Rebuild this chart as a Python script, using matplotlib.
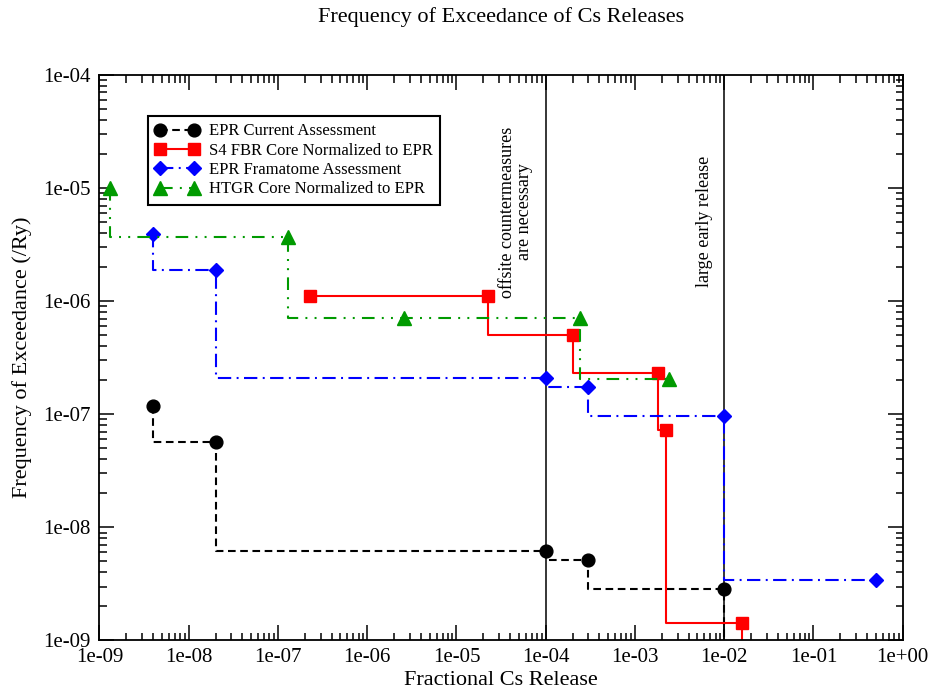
import matplotlib.pyplot as plt
import numpy as np

plt.rcParams['font.family'] = ['Liberation Serif', 'DejaVu Serif']
plt.rcParams['lines.scale_dashes'] = False

# data (fractional release, frequency /Ry)
epr_x = [4e-9, 2e-8, 1e-4, 3e-4, 1e-2, 1e-2]
epr_y = [1.18e-7, 5.7e-8, 6.2e-9, 5.2e-9, 2.85e-9, 1e-10]

s4_x = [2.3e-7, 2.25e-5, 2.0e-4, 1.8e-3, 2.25e-3, 1.58e-2, 1.58e-2]
s4_y = [1.12e-6, 1.10e-6, 5.0e-7, 2.3e-7, 7.2e-8, 1.42e-9, 1e-10]

fra_x = [4e-9, 2e-8, 1e-4, 3e-4, 1e-2, 0.5]
fra_y = [3.9e-6, 1.9e-6, 2.08e-7, 1.75e-7, 9.6e-8, 3.45e-9]

htgr_x = [1.3e-9, 1.3e-7, 2.6e-6, 2.4e-4, 2.4e-3]
htgr_y = [1e-5, 3.7e-6, 7.1e-7, 7.1e-7, 2.05e-7]

labels = ['EPR Current Assessment', 'S4 FBR Core Normalized to EPR',
          'EPR Framatome Assessment', 'HTGR Core Normalized to EPR']
green = '#009a00'

fig, ax = plt.subplots(figsize=(9.34, 6.91), dpi=100)
fig.subplots_adjust(left=0.1065, right=0.9665, bottom=0.0731, top=0.8915)

ax.axvline(1e-4, color='black', lw=1.1)
ax.axvline(1e-2, color='black', lw=1.1)

ax.plot(epr_x, epr_y, color='black', ls=(0, (5.5, 3.3)), lw=1.5, marker='o', ms=9.2,
        drawstyle='steps-pre', label=labels[0])
ax.plot(s4_x, s4_y, color='#ff0000', ls='-', lw=1.5, marker='s', ms=8.2,
        drawstyle='steps-pre', label=labels[1])
ax.plot(fra_x, fra_y, color='#0000ff', ls=(0, (9.6, 3.9, 1.4, 3.9)), lw=1.5, marker='D', ms=7.3,
        drawstyle='steps-pre', label=labels[2])
ax.plot(htgr_x, htgr_y, color=green, ls=(0, (9.1, 5.2, 1.4, 5.2, 1.4, 5.2)), lw=1.5, marker='^', ms=9.5,
        drawstyle='steps-pre', label=labels[3])

ax.set_xscale('log')
ax.set_yscale('log')
ax.set_xlim(1e-9, 1)
ax.set_ylim(1e-9, 1e-4)

xt = [10.0 ** e for e in range(-9, 1)]
ax.set_xticks(xt)
ax.set_xticklabels(['1e%+03d' % e for e in range(-9, 1)])
yt = [10.0 ** e for e in range(-9, -3)]
ax.set_yticks(yt)
ax.set_yticklabels(['1e%+03d' % e for e in range(-9, -3)])

ax.tick_params(which='both', direction='in', top=True, right=True, width=1.1)
ax.tick_params(which='major', length=10.8)
ax.tick_params(which='minor', length=5.4)
ax.tick_params(axis='x', which='major', labelsize=15, pad=5.5)
ax.tick_params(axis='y', which='major', labelsize=15, pad=6.5)
for s in ax.spines.values():
    s.set_linewidth(1.3)

ax.set_title('Frequency of Exceedance of Cs Releases', fontsize=16, y=1.1026, pad=0, va='center')
ax.set_xlabel('Fractional Cs Release', fontsize=16, va='center')
ax.xaxis.set_label_coords(0.5, -0.0716)
ax.set_ylabel('Frequency of Exceedance (/Ry)', fontsize=16, va='center')
ax.yaxis.set_label_coords(-0.0965, 0.5)

ax.text(0.5186, 0.7577, 'offsite countermeasures\nare necessary', transform=ax.transAxes,
        rotation=90, ha='center', va='center', multialignment='center', fontsize=13,
        linespacing=1.0)
ax.text(0.7538, 0.7418, 'large early release', transform=ax.transAxes,
        rotation=90, ha='center', va='center', fontsize=13)

leg = ax.legend(loc='upper left', bbox_to_anchor=(0.0604, 0.9275), numpoints=2,
                handlelength=2.6, handletextpad=0.6, borderpad=0.45, labelspacing=0.2,
                fontsize=12, fancybox=False, edgecolor='black', framealpha=1,
                borderaxespad=0)
leg.get_frame().set_linewidth(1.5)

plt.savefig('out.png')
